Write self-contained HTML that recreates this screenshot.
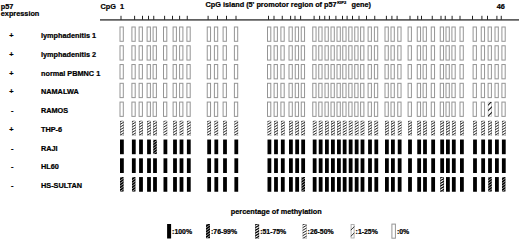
<!DOCTYPE html>
<html><head><meta charset="utf-8"><style>
html,body{margin:0;padding:0;background:#fff;width:520px;height:240px;overflow:hidden}
svg{display:block}
.t{font-family:"Liberation Sans",sans-serif;font-weight:bold;font-size:7.3px;fill:#000;stroke:#000;stroke-width:0.22px}
</style></head><body>
<svg width="520" height="240" viewBox="0 0 520 240">
<defs>
<clipPath id="c1"><rect x="488.10" y="101.98" width="3.8" height="14.7"/></clipPath>
<clipPath id="c2"><rect x="120.00" y="120.75" width="3.8" height="14.7"/></clipPath>
<clipPath id="c3"><rect x="131.90" y="120.75" width="3.8" height="14.7"/></clipPath>
<clipPath id="c4"><rect x="139.10" y="120.75" width="3.8" height="14.7"/></clipPath>
<clipPath id="c5"><rect x="147.10" y="120.75" width="3.8" height="14.7"/></clipPath>
<clipPath id="c6"><rect x="153.10" y="120.75" width="3.8" height="14.7"/></clipPath>
<clipPath id="c7"><rect x="163.50" y="120.75" width="3.8" height="14.7"/></clipPath>
<clipPath id="c8"><rect x="173.10" y="120.75" width="3.8" height="14.7"/></clipPath>
<clipPath id="c9"><rect x="179.60" y="120.75" width="3.8" height="14.7"/></clipPath>
<clipPath id="c10"><rect x="186.90" y="120.75" width="3.8" height="14.7"/></clipPath>
<clipPath id="c11"><rect x="207.25" y="120.75" width="3.8" height="14.7"/></clipPath>
<clipPath id="c12"><rect x="214.40" y="120.75" width="3.8" height="14.7"/></clipPath>
<clipPath id="c13"><rect x="223.10" y="120.75" width="3.8" height="14.7"/></clipPath>
<clipPath id="c14"><rect x="234.40" y="120.75" width="3.8" height="14.7"/></clipPath>
<clipPath id="c15"><rect x="267.50" y="120.75" width="3.8" height="14.7"/></clipPath>
<clipPath id="c16"><rect x="274.10" y="120.75" width="3.8" height="14.7"/></clipPath>
<clipPath id="c17"><rect x="280.90" y="120.75" width="3.8" height="14.7"/></clipPath>
<clipPath id="c18"><rect x="289.00" y="120.75" width="3.8" height="14.7"/></clipPath>
<clipPath id="c19"><rect x="295.25" y="120.75" width="3.8" height="14.7"/></clipPath>
<clipPath id="c20"><rect x="301.25" y="120.75" width="3.8" height="14.7"/></clipPath>
<clipPath id="c21"><rect x="312.75" y="120.75" width="3.8" height="14.7"/></clipPath>
<clipPath id="c22"><rect x="318.75" y="120.75" width="3.8" height="14.7"/></clipPath>
<clipPath id="c23"><rect x="325.00" y="120.75" width="3.8" height="14.7"/></clipPath>
<clipPath id="c24"><rect x="331.00" y="120.75" width="3.8" height="14.7"/></clipPath>
<clipPath id="c25"><rect x="337.00" y="120.75" width="3.8" height="14.7"/></clipPath>
<clipPath id="c26"><rect x="342.75" y="120.75" width="3.8" height="14.7"/></clipPath>
<clipPath id="c27"><rect x="348.75" y="120.75" width="3.8" height="14.7"/></clipPath>
<clipPath id="c28"><rect x="354.75" y="120.75" width="3.8" height="14.7"/></clipPath>
<clipPath id="c29"><rect x="360.60" y="120.75" width="3.8" height="14.7"/></clipPath>
<clipPath id="c30"><rect x="368.10" y="120.75" width="3.8" height="14.7"/></clipPath>
<clipPath id="c31"><rect x="374.40" y="120.75" width="3.8" height="14.7"/></clipPath>
<clipPath id="c32"><rect x="385.00" y="120.75" width="3.8" height="14.7"/></clipPath>
<clipPath id="c33"><rect x="391.00" y="120.75" width="3.8" height="14.7"/></clipPath>
<clipPath id="c34"><rect x="397.75" y="120.75" width="3.8" height="14.7"/></clipPath>
<clipPath id="c35"><rect x="408.10" y="120.75" width="3.8" height="14.7"/></clipPath>
<clipPath id="c36"><rect x="417.25" y="120.75" width="3.8" height="14.7"/></clipPath>
<clipPath id="c37"><rect x="423.10" y="120.75" width="3.8" height="14.7"/></clipPath>
<clipPath id="c38"><rect x="431.25" y="120.75" width="3.8" height="14.7"/></clipPath>
<clipPath id="c39"><rect x="440.25" y="120.75" width="3.8" height="14.7"/></clipPath>
<clipPath id="c40"><rect x="446.00" y="120.75" width="3.8" height="14.7"/></clipPath>
<clipPath id="c41"><rect x="451.90" y="120.75" width="3.8" height="14.7"/></clipPath>
<clipPath id="c42"><rect x="460.00" y="120.75" width="3.8" height="14.7"/></clipPath>
<clipPath id="c43"><rect x="473.10" y="120.75" width="3.8" height="14.7"/></clipPath>
<clipPath id="c44"><rect x="481.25" y="120.75" width="3.8" height="14.7"/></clipPath>
<clipPath id="c45"><rect x="488.10" y="120.75" width="3.8" height="14.7"/></clipPath>
<clipPath id="c46"><rect x="495.00" y="120.75" width="3.8" height="14.7"/></clipPath>
<clipPath id="c47"><rect x="501.90" y="120.75" width="3.8" height="14.7"/></clipPath>
<clipPath id="c48"><rect x="153.10" y="139.52" width="3.8" height="14.7"/></clipPath>
<clipPath id="c49"><rect x="120.00" y="177.06" width="3.8" height="14.7"/></clipPath>
<clipPath id="c50"><rect x="131.90" y="177.06" width="3.8" height="14.7"/></clipPath>
<clipPath id="c51"><rect x="301.25" y="177.06" width="3.8" height="14.7"/></clipPath>
<clipPath id="c52"><rect x="440.25" y="177.06" width="3.8" height="14.7"/></clipPath>
<clipPath id="c53"><rect x="488.10" y="177.06" width="3.8" height="14.7"/></clipPath>
<clipPath id="c54"><rect x="501.90" y="177.06" width="3.8" height="14.7"/></clipPath>
<clipPath id="c55"><rect x="206.00" y="224.00" width="4" height="14.5"/></clipPath>
<clipPath id="c56"><rect x="255.20" y="224.00" width="4" height="14.5"/></clipPath>
<clipPath id="c57"><rect x="302.60" y="224.00" width="4" height="14.5"/></clipPath>
<clipPath id="c58"><rect x="350.60" y="224.00" width="4" height="14.5"/></clipPath>
</defs>
<rect x="100" y="19.2" width="419" height="1.4" fill="#3a3a3a"/>
<rect x="120.50" y="15.8" width="1" height="4" fill="#222"/>
<rect x="134.10" y="15.8" width="1" height="4" fill="#222"/>
<rect x="142.00" y="15.8" width="1" height="4" fill="#222"/>
<rect x="148.00" y="15.8" width="1" height="4" fill="#222"/>
<rect x="153.25" y="15.8" width="1" height="4" fill="#222"/>
<rect x="164.10" y="15.8" width="1" height="4" fill="#222"/>
<rect x="172.00" y="15.8" width="1" height="4" fill="#222"/>
<rect x="179.10" y="15.8" width="1" height="4" fill="#222"/>
<rect x="186.75" y="15.8" width="1" height="4" fill="#222"/>
<rect x="207.60" y="15.8" width="1" height="4" fill="#222"/>
<rect x="217.00" y="15.8" width="1" height="4" fill="#222"/>
<rect x="226.00" y="15.8" width="1" height="4" fill="#222"/>
<rect x="235.50" y="15.8" width="1" height="4" fill="#222"/>
<rect x="268.00" y="15.8" width="1" height="4" fill="#222"/>
<rect x="273.50" y="15.8" width="1" height="4" fill="#222"/>
<rect x="281.75" y="15.8" width="1" height="4" fill="#222"/>
<rect x="290.10" y="15.8" width="1" height="4" fill="#222"/>
<rect x="294.50" y="15.8" width="1" height="4" fill="#222"/>
<rect x="300.10" y="15.8" width="1" height="4" fill="#222"/>
<rect x="313.60" y="15.8" width="1" height="4" fill="#222"/>
<rect x="319.10" y="15.8" width="1" height="4" fill="#222"/>
<rect x="324.25" y="15.8" width="1" height="4" fill="#222"/>
<rect x="328.90" y="15.8" width="1" height="4" fill="#222"/>
<rect x="335.40" y="15.8" width="1" height="4" fill="#222"/>
<rect x="342.00" y="15.8" width="1" height="4" fill="#222"/>
<rect x="346.60" y="15.8" width="1" height="4" fill="#222"/>
<rect x="352.00" y="15.8" width="1" height="4" fill="#222"/>
<rect x="358.50" y="15.8" width="1" height="4" fill="#222"/>
<rect x="366.00" y="15.8" width="1" height="4" fill="#222"/>
<rect x="374.25" y="15.8" width="1" height="4" fill="#222"/>
<rect x="385.90" y="15.8" width="1" height="4" fill="#222"/>
<rect x="391.40" y="15.8" width="1" height="4" fill="#222"/>
<rect x="396.60" y="15.8" width="1" height="4" fill="#222"/>
<rect x="409.50" y="15.8" width="1" height="4" fill="#222"/>
<rect x="417.25" y="15.8" width="1" height="4" fill="#222"/>
<rect x="421.00" y="15.8" width="1" height="4" fill="#222"/>
<rect x="431.75" y="15.8" width="1" height="4" fill="#222"/>
<rect x="440.50" y="15.8" width="1" height="4" fill="#222"/>
<rect x="444.75" y="15.8" width="1" height="4" fill="#222"/>
<rect x="451.60" y="15.8" width="1" height="4" fill="#222"/>
<rect x="459.50" y="15.8" width="1" height="4" fill="#222"/>
<rect x="472.00" y="15.8" width="1" height="4" fill="#222"/>
<rect x="481.40" y="15.8" width="1" height="4" fill="#222"/>
<rect x="487.00" y="15.8" width="1" height="4" fill="#222"/>
<rect x="496.40" y="15.8" width="1" height="4" fill="#222"/>
<rect x="500.75" y="15.8" width="1" height="4" fill="#222"/>
<rect x="120.00" y="27.00" width="3.30" height="14.30" fill="#fff" stroke="#959595" stroke-width="1"/>
<rect x="131.90" y="27.00" width="3.30" height="14.30" fill="#fff" stroke="#959595" stroke-width="1"/>
<rect x="139.10" y="27.00" width="3.30" height="14.30" fill="#fff" stroke="#959595" stroke-width="1"/>
<rect x="147.10" y="27.00" width="3.30" height="14.30" fill="#fff" stroke="#959595" stroke-width="1"/>
<rect x="153.10" y="27.00" width="3.30" height="14.30" fill="#fff" stroke="#959595" stroke-width="1"/>
<rect x="163.50" y="27.00" width="3.30" height="14.30" fill="#fff" stroke="#959595" stroke-width="1"/>
<rect x="173.10" y="27.00" width="3.30" height="14.30" fill="#fff" stroke="#959595" stroke-width="1"/>
<rect x="179.60" y="27.00" width="3.30" height="14.30" fill="#fff" stroke="#959595" stroke-width="1"/>
<rect x="186.90" y="27.00" width="3.30" height="14.30" fill="#fff" stroke="#959595" stroke-width="1"/>
<rect x="207.25" y="27.00" width="3.30" height="14.30" fill="#fff" stroke="#959595" stroke-width="1"/>
<rect x="214.40" y="27.00" width="3.30" height="14.30" fill="#fff" stroke="#959595" stroke-width="1"/>
<rect x="223.10" y="27.00" width="3.30" height="14.30" fill="#fff" stroke="#959595" stroke-width="1"/>
<rect x="234.40" y="27.00" width="3.30" height="14.30" fill="#fff" stroke="#959595" stroke-width="1"/>
<rect x="267.50" y="27.00" width="3.30" height="14.30" fill="#fff" stroke="#959595" stroke-width="1"/>
<rect x="274.10" y="27.00" width="3.30" height="14.30" fill="#fff" stroke="#959595" stroke-width="1"/>
<rect x="280.90" y="27.00" width="3.30" height="14.30" fill="#fff" stroke="#959595" stroke-width="1"/>
<rect x="289.00" y="27.00" width="3.30" height="14.30" fill="#fff" stroke="#959595" stroke-width="1"/>
<rect x="295.25" y="27.00" width="3.30" height="14.30" fill="#fff" stroke="#959595" stroke-width="1"/>
<rect x="301.25" y="27.00" width="3.30" height="14.30" fill="#fff" stroke="#959595" stroke-width="1"/>
<rect x="312.75" y="27.00" width="3.30" height="14.30" fill="#fff" stroke="#959595" stroke-width="1"/>
<rect x="318.75" y="27.00" width="3.30" height="14.30" fill="#fff" stroke="#959595" stroke-width="1"/>
<rect x="325.00" y="27.00" width="3.30" height="14.30" fill="#fff" stroke="#959595" stroke-width="1"/>
<rect x="331.00" y="27.00" width="3.30" height="14.30" fill="#fff" stroke="#959595" stroke-width="1"/>
<rect x="337.00" y="27.00" width="3.30" height="14.30" fill="#fff" stroke="#959595" stroke-width="1"/>
<rect x="342.75" y="27.00" width="3.30" height="14.30" fill="#fff" stroke="#959595" stroke-width="1"/>
<rect x="348.75" y="27.00" width="3.30" height="14.30" fill="#fff" stroke="#959595" stroke-width="1"/>
<rect x="354.75" y="27.00" width="3.30" height="14.30" fill="#fff" stroke="#959595" stroke-width="1"/>
<rect x="360.60" y="27.00" width="3.30" height="14.30" fill="#fff" stroke="#959595" stroke-width="1"/>
<rect x="368.10" y="27.00" width="3.30" height="14.30" fill="#fff" stroke="#959595" stroke-width="1"/>
<rect x="374.40" y="27.00" width="3.30" height="14.30" fill="#fff" stroke="#959595" stroke-width="1"/>
<rect x="385.00" y="27.00" width="3.30" height="14.30" fill="#fff" stroke="#959595" stroke-width="1"/>
<rect x="391.00" y="27.00" width="3.30" height="14.30" fill="#fff" stroke="#959595" stroke-width="1"/>
<rect x="397.75" y="27.00" width="3.30" height="14.30" fill="#fff" stroke="#959595" stroke-width="1"/>
<rect x="408.10" y="27.00" width="3.30" height="14.30" fill="#fff" stroke="#959595" stroke-width="1"/>
<rect x="417.25" y="27.00" width="3.30" height="14.30" fill="#fff" stroke="#959595" stroke-width="1"/>
<rect x="423.10" y="27.00" width="3.30" height="14.30" fill="#fff" stroke="#959595" stroke-width="1"/>
<rect x="431.25" y="27.00" width="3.30" height="14.30" fill="#fff" stroke="#959595" stroke-width="1"/>
<rect x="440.25" y="27.00" width="3.30" height="14.30" fill="#fff" stroke="#959595" stroke-width="1"/>
<rect x="446.00" y="27.00" width="3.30" height="14.30" fill="#fff" stroke="#959595" stroke-width="1"/>
<rect x="451.90" y="27.00" width="3.30" height="14.30" fill="#fff" stroke="#959595" stroke-width="1"/>
<rect x="460.00" y="27.00" width="3.30" height="14.30" fill="#fff" stroke="#959595" stroke-width="1"/>
<rect x="473.10" y="27.00" width="3.30" height="14.30" fill="#fff" stroke="#959595" stroke-width="1"/>
<rect x="481.25" y="27.00" width="3.30" height="14.30" fill="#fff" stroke="#959595" stroke-width="1"/>
<rect x="488.10" y="27.00" width="3.30" height="14.30" fill="#fff" stroke="#959595" stroke-width="1"/>
<rect x="495.00" y="27.00" width="3.30" height="14.30" fill="#fff" stroke="#959595" stroke-width="1"/>
<rect x="501.90" y="27.00" width="3.30" height="14.30" fill="#fff" stroke="#959595" stroke-width="1"/>
<text x="9.2" y="38.10" class="t">+</text>
<text x="41" y="38.10" class="t">lymphadenitis 1</text>
<rect x="120.00" y="45.77" width="3.30" height="14.30" fill="#fff" stroke="#959595" stroke-width="1"/>
<rect x="131.90" y="45.77" width="3.30" height="14.30" fill="#fff" stroke="#959595" stroke-width="1"/>
<rect x="139.10" y="45.77" width="3.30" height="14.30" fill="#fff" stroke="#959595" stroke-width="1"/>
<rect x="147.10" y="45.77" width="3.30" height="14.30" fill="#fff" stroke="#959595" stroke-width="1"/>
<rect x="153.10" y="45.77" width="3.30" height="14.30" fill="#fff" stroke="#959595" stroke-width="1"/>
<rect x="163.50" y="45.77" width="3.30" height="14.30" fill="#fff" stroke="#959595" stroke-width="1"/>
<rect x="173.10" y="45.77" width="3.30" height="14.30" fill="#fff" stroke="#959595" stroke-width="1"/>
<rect x="179.60" y="45.77" width="3.30" height="14.30" fill="#fff" stroke="#959595" stroke-width="1"/>
<rect x="186.90" y="45.77" width="3.30" height="14.30" fill="#fff" stroke="#959595" stroke-width="1"/>
<rect x="207.25" y="45.77" width="3.30" height="14.30" fill="#fff" stroke="#959595" stroke-width="1"/>
<rect x="214.40" y="45.77" width="3.30" height="14.30" fill="#fff" stroke="#959595" stroke-width="1"/>
<rect x="223.10" y="45.77" width="3.30" height="14.30" fill="#fff" stroke="#959595" stroke-width="1"/>
<rect x="234.40" y="45.77" width="3.30" height="14.30" fill="#fff" stroke="#959595" stroke-width="1"/>
<rect x="267.50" y="45.77" width="3.30" height="14.30" fill="#fff" stroke="#959595" stroke-width="1"/>
<rect x="274.10" y="45.77" width="3.30" height="14.30" fill="#fff" stroke="#959595" stroke-width="1"/>
<rect x="280.90" y="45.77" width="3.30" height="14.30" fill="#fff" stroke="#959595" stroke-width="1"/>
<rect x="289.00" y="45.77" width="3.30" height="14.30" fill="#fff" stroke="#959595" stroke-width="1"/>
<rect x="295.25" y="45.77" width="3.30" height="14.30" fill="#fff" stroke="#959595" stroke-width="1"/>
<rect x="301.25" y="45.77" width="3.30" height="14.30" fill="#fff" stroke="#959595" stroke-width="1"/>
<rect x="312.75" y="45.77" width="3.30" height="14.30" fill="#fff" stroke="#959595" stroke-width="1"/>
<rect x="318.75" y="45.77" width="3.30" height="14.30" fill="#fff" stroke="#959595" stroke-width="1"/>
<rect x="325.00" y="45.77" width="3.30" height="14.30" fill="#fff" stroke="#959595" stroke-width="1"/>
<rect x="331.00" y="45.77" width="3.30" height="14.30" fill="#fff" stroke="#959595" stroke-width="1"/>
<rect x="337.00" y="45.77" width="3.30" height="14.30" fill="#fff" stroke="#959595" stroke-width="1"/>
<rect x="342.75" y="45.77" width="3.30" height="14.30" fill="#fff" stroke="#959595" stroke-width="1"/>
<rect x="348.75" y="45.77" width="3.30" height="14.30" fill="#fff" stroke="#959595" stroke-width="1"/>
<rect x="354.75" y="45.77" width="3.30" height="14.30" fill="#fff" stroke="#959595" stroke-width="1"/>
<rect x="360.60" y="45.77" width="3.30" height="14.30" fill="#fff" stroke="#959595" stroke-width="1"/>
<rect x="368.10" y="45.77" width="3.30" height="14.30" fill="#fff" stroke="#959595" stroke-width="1"/>
<rect x="374.40" y="45.77" width="3.30" height="14.30" fill="#fff" stroke="#959595" stroke-width="1"/>
<rect x="385.00" y="45.77" width="3.30" height="14.30" fill="#fff" stroke="#959595" stroke-width="1"/>
<rect x="391.00" y="45.77" width="3.30" height="14.30" fill="#fff" stroke="#959595" stroke-width="1"/>
<rect x="397.75" y="45.77" width="3.30" height="14.30" fill="#fff" stroke="#959595" stroke-width="1"/>
<rect x="408.10" y="45.77" width="3.30" height="14.30" fill="#fff" stroke="#959595" stroke-width="1"/>
<rect x="417.25" y="45.77" width="3.30" height="14.30" fill="#fff" stroke="#959595" stroke-width="1"/>
<rect x="423.10" y="45.77" width="3.30" height="14.30" fill="#fff" stroke="#959595" stroke-width="1"/>
<rect x="431.25" y="45.77" width="3.30" height="14.30" fill="#fff" stroke="#959595" stroke-width="1"/>
<rect x="440.25" y="45.77" width="3.30" height="14.30" fill="#fff" stroke="#959595" stroke-width="1"/>
<rect x="446.00" y="45.77" width="3.30" height="14.30" fill="#fff" stroke="#959595" stroke-width="1"/>
<rect x="451.90" y="45.77" width="3.30" height="14.30" fill="#fff" stroke="#959595" stroke-width="1"/>
<rect x="460.00" y="45.77" width="3.30" height="14.30" fill="#fff" stroke="#959595" stroke-width="1"/>
<rect x="473.10" y="45.77" width="3.30" height="14.30" fill="#fff" stroke="#959595" stroke-width="1"/>
<rect x="481.25" y="45.77" width="3.30" height="14.30" fill="#fff" stroke="#959595" stroke-width="1"/>
<rect x="488.10" y="45.77" width="3.30" height="14.30" fill="#fff" stroke="#959595" stroke-width="1"/>
<rect x="495.00" y="45.77" width="3.30" height="14.30" fill="#fff" stroke="#959595" stroke-width="1"/>
<rect x="501.90" y="45.77" width="3.30" height="14.30" fill="#fff" stroke="#959595" stroke-width="1"/>
<text x="9.2" y="56.87" class="t">+</text>
<text x="41" y="56.87" class="t">lymphadenitis 2</text>
<rect x="120.00" y="64.54" width="3.30" height="14.30" fill="#fff" stroke="#959595" stroke-width="1"/>
<rect x="131.90" y="64.54" width="3.30" height="14.30" fill="#fff" stroke="#959595" stroke-width="1"/>
<rect x="139.10" y="64.54" width="3.30" height="14.30" fill="#fff" stroke="#959595" stroke-width="1"/>
<rect x="147.10" y="64.54" width="3.30" height="14.30" fill="#fff" stroke="#959595" stroke-width="1"/>
<rect x="153.10" y="64.54" width="3.30" height="14.30" fill="#fff" stroke="#959595" stroke-width="1"/>
<rect x="163.50" y="64.54" width="3.30" height="14.30" fill="#fff" stroke="#959595" stroke-width="1"/>
<rect x="173.10" y="64.54" width="3.30" height="14.30" fill="#fff" stroke="#959595" stroke-width="1"/>
<rect x="179.60" y="64.54" width="3.30" height="14.30" fill="#fff" stroke="#959595" stroke-width="1"/>
<rect x="186.90" y="64.54" width="3.30" height="14.30" fill="#fff" stroke="#959595" stroke-width="1"/>
<rect x="207.25" y="64.54" width="3.30" height="14.30" fill="#fff" stroke="#959595" stroke-width="1"/>
<rect x="214.40" y="64.54" width="3.30" height="14.30" fill="#fff" stroke="#959595" stroke-width="1"/>
<rect x="223.10" y="64.54" width="3.30" height="14.30" fill="#fff" stroke="#959595" stroke-width="1"/>
<rect x="234.40" y="64.54" width="3.30" height="14.30" fill="#fff" stroke="#959595" stroke-width="1"/>
<rect x="267.50" y="64.54" width="3.30" height="14.30" fill="#fff" stroke="#959595" stroke-width="1"/>
<rect x="274.10" y="64.54" width="3.30" height="14.30" fill="#fff" stroke="#959595" stroke-width="1"/>
<rect x="280.90" y="64.54" width="3.30" height="14.30" fill="#fff" stroke="#959595" stroke-width="1"/>
<rect x="289.00" y="64.54" width="3.30" height="14.30" fill="#fff" stroke="#959595" stroke-width="1"/>
<rect x="295.25" y="64.54" width="3.30" height="14.30" fill="#fff" stroke="#959595" stroke-width="1"/>
<rect x="301.25" y="64.54" width="3.30" height="14.30" fill="#fff" stroke="#959595" stroke-width="1"/>
<rect x="312.75" y="64.54" width="3.30" height="14.30" fill="#fff" stroke="#959595" stroke-width="1"/>
<rect x="318.75" y="64.54" width="3.30" height="14.30" fill="#fff" stroke="#959595" stroke-width="1"/>
<rect x="325.00" y="64.54" width="3.30" height="14.30" fill="#fff" stroke="#959595" stroke-width="1"/>
<rect x="331.00" y="64.54" width="3.30" height="14.30" fill="#fff" stroke="#959595" stroke-width="1"/>
<rect x="337.00" y="64.54" width="3.30" height="14.30" fill="#fff" stroke="#959595" stroke-width="1"/>
<rect x="342.75" y="64.54" width="3.30" height="14.30" fill="#fff" stroke="#959595" stroke-width="1"/>
<rect x="348.75" y="64.54" width="3.30" height="14.30" fill="#fff" stroke="#959595" stroke-width="1"/>
<rect x="354.75" y="64.54" width="3.30" height="14.30" fill="#fff" stroke="#959595" stroke-width="1"/>
<rect x="360.60" y="64.54" width="3.30" height="14.30" fill="#fff" stroke="#959595" stroke-width="1"/>
<rect x="368.10" y="64.54" width="3.30" height="14.30" fill="#fff" stroke="#959595" stroke-width="1"/>
<rect x="374.40" y="64.54" width="3.30" height="14.30" fill="#fff" stroke="#959595" stroke-width="1"/>
<rect x="385.00" y="64.54" width="3.30" height="14.30" fill="#fff" stroke="#959595" stroke-width="1"/>
<rect x="391.00" y="64.54" width="3.30" height="14.30" fill="#fff" stroke="#959595" stroke-width="1"/>
<rect x="397.75" y="64.54" width="3.30" height="14.30" fill="#fff" stroke="#959595" stroke-width="1"/>
<rect x="408.10" y="64.54" width="3.30" height="14.30" fill="#fff" stroke="#959595" stroke-width="1"/>
<rect x="417.25" y="64.54" width="3.30" height="14.30" fill="#fff" stroke="#959595" stroke-width="1"/>
<rect x="423.10" y="64.54" width="3.30" height="14.30" fill="#fff" stroke="#959595" stroke-width="1"/>
<rect x="431.25" y="64.54" width="3.30" height="14.30" fill="#fff" stroke="#959595" stroke-width="1"/>
<rect x="440.25" y="64.54" width="3.30" height="14.30" fill="#fff" stroke="#959595" stroke-width="1"/>
<rect x="446.00" y="64.54" width="3.30" height="14.30" fill="#fff" stroke="#959595" stroke-width="1"/>
<rect x="451.90" y="64.54" width="3.30" height="14.30" fill="#fff" stroke="#959595" stroke-width="1"/>
<rect x="460.00" y="64.54" width="3.30" height="14.30" fill="#fff" stroke="#959595" stroke-width="1"/>
<rect x="473.10" y="64.54" width="3.30" height="14.30" fill="#fff" stroke="#959595" stroke-width="1"/>
<rect x="481.25" y="64.54" width="3.30" height="14.30" fill="#fff" stroke="#959595" stroke-width="1"/>
<rect x="488.10" y="64.54" width="3.30" height="14.30" fill="#fff" stroke="#959595" stroke-width="1"/>
<rect x="495.00" y="64.54" width="3.30" height="14.30" fill="#fff" stroke="#959595" stroke-width="1"/>
<rect x="501.90" y="64.54" width="3.30" height="14.30" fill="#fff" stroke="#959595" stroke-width="1"/>
<text x="9.2" y="75.64" class="t">+</text>
<text x="41" y="75.64" class="t">normal PBMNC 1</text>
<rect x="120.00" y="83.31" width="3.30" height="14.30" fill="#fff" stroke="#959595" stroke-width="1"/>
<rect x="131.90" y="83.31" width="3.30" height="14.30" fill="#fff" stroke="#959595" stroke-width="1"/>
<rect x="139.10" y="83.31" width="3.30" height="14.30" fill="#fff" stroke="#959595" stroke-width="1"/>
<rect x="147.10" y="83.31" width="3.30" height="14.30" fill="#fff" stroke="#959595" stroke-width="1"/>
<rect x="153.10" y="83.31" width="3.30" height="14.30" fill="#fff" stroke="#959595" stroke-width="1"/>
<rect x="163.50" y="83.31" width="3.30" height="14.30" fill="#fff" stroke="#959595" stroke-width="1"/>
<rect x="173.10" y="83.31" width="3.30" height="14.30" fill="#fff" stroke="#959595" stroke-width="1"/>
<rect x="179.60" y="83.31" width="3.30" height="14.30" fill="#fff" stroke="#959595" stroke-width="1"/>
<rect x="186.90" y="83.31" width="3.30" height="14.30" fill="#fff" stroke="#959595" stroke-width="1"/>
<rect x="207.25" y="83.31" width="3.30" height="14.30" fill="#fff" stroke="#959595" stroke-width="1"/>
<rect x="214.40" y="83.31" width="3.30" height="14.30" fill="#fff" stroke="#959595" stroke-width="1"/>
<rect x="223.10" y="83.31" width="3.30" height="14.30" fill="#fff" stroke="#959595" stroke-width="1"/>
<rect x="234.40" y="83.31" width="3.30" height="14.30" fill="#fff" stroke="#959595" stroke-width="1"/>
<rect x="267.50" y="83.31" width="3.30" height="14.30" fill="#fff" stroke="#959595" stroke-width="1"/>
<rect x="274.10" y="83.31" width="3.30" height="14.30" fill="#fff" stroke="#959595" stroke-width="1"/>
<rect x="280.90" y="83.31" width="3.30" height="14.30" fill="#fff" stroke="#959595" stroke-width="1"/>
<rect x="289.00" y="83.31" width="3.30" height="14.30" fill="#fff" stroke="#959595" stroke-width="1"/>
<rect x="295.25" y="83.31" width="3.30" height="14.30" fill="#fff" stroke="#959595" stroke-width="1"/>
<rect x="301.25" y="83.31" width="3.30" height="14.30" fill="#fff" stroke="#959595" stroke-width="1"/>
<rect x="312.75" y="83.31" width="3.30" height="14.30" fill="#fff" stroke="#959595" stroke-width="1"/>
<rect x="318.75" y="83.31" width="3.30" height="14.30" fill="#fff" stroke="#959595" stroke-width="1"/>
<rect x="325.00" y="83.31" width="3.30" height="14.30" fill="#fff" stroke="#959595" stroke-width="1"/>
<rect x="331.00" y="83.31" width="3.30" height="14.30" fill="#fff" stroke="#959595" stroke-width="1"/>
<rect x="337.00" y="83.31" width="3.30" height="14.30" fill="#fff" stroke="#959595" stroke-width="1"/>
<rect x="342.75" y="83.31" width="3.30" height="14.30" fill="#fff" stroke="#959595" stroke-width="1"/>
<rect x="348.75" y="83.31" width="3.30" height="14.30" fill="#fff" stroke="#959595" stroke-width="1"/>
<rect x="354.75" y="83.31" width="3.30" height="14.30" fill="#fff" stroke="#959595" stroke-width="1"/>
<rect x="360.60" y="83.31" width="3.30" height="14.30" fill="#fff" stroke="#959595" stroke-width="1"/>
<rect x="368.10" y="83.31" width="3.30" height="14.30" fill="#fff" stroke="#959595" stroke-width="1"/>
<rect x="374.40" y="83.31" width="3.30" height="14.30" fill="#fff" stroke="#959595" stroke-width="1"/>
<rect x="385.00" y="83.31" width="3.30" height="14.30" fill="#fff" stroke="#959595" stroke-width="1"/>
<rect x="391.00" y="83.31" width="3.30" height="14.30" fill="#fff" stroke="#959595" stroke-width="1"/>
<rect x="397.75" y="83.31" width="3.30" height="14.30" fill="#fff" stroke="#959595" stroke-width="1"/>
<rect x="408.10" y="83.31" width="3.30" height="14.30" fill="#fff" stroke="#959595" stroke-width="1"/>
<rect x="417.25" y="83.31" width="3.30" height="14.30" fill="#fff" stroke="#959595" stroke-width="1"/>
<rect x="423.10" y="83.31" width="3.30" height="14.30" fill="#fff" stroke="#959595" stroke-width="1"/>
<rect x="431.25" y="83.31" width="3.30" height="14.30" fill="#fff" stroke="#959595" stroke-width="1"/>
<rect x="440.25" y="83.31" width="3.30" height="14.30" fill="#fff" stroke="#959595" stroke-width="1"/>
<rect x="446.00" y="83.31" width="3.30" height="14.30" fill="#fff" stroke="#959595" stroke-width="1"/>
<rect x="451.90" y="83.31" width="3.30" height="14.30" fill="#fff" stroke="#959595" stroke-width="1"/>
<rect x="460.00" y="83.31" width="3.30" height="14.30" fill="#fff" stroke="#959595" stroke-width="1"/>
<rect x="473.10" y="83.31" width="3.30" height="14.30" fill="#fff" stroke="#959595" stroke-width="1"/>
<rect x="481.25" y="83.31" width="3.30" height="14.30" fill="#fff" stroke="#959595" stroke-width="1"/>
<rect x="488.10" y="83.31" width="3.30" height="14.30" fill="#fff" stroke="#959595" stroke-width="1"/>
<rect x="495.00" y="83.31" width="3.30" height="14.30" fill="#fff" stroke="#959595" stroke-width="1"/>
<rect x="501.90" y="83.31" width="3.30" height="14.30" fill="#fff" stroke="#959595" stroke-width="1"/>
<text x="9.2" y="94.41" class="t">+</text>
<text x="41" y="94.41" class="t">NAMALWA</text>
<rect x="120.00" y="102.08" width="3.30" height="14.30" fill="#fff" stroke="#959595" stroke-width="1"/>
<rect x="131.90" y="102.08" width="3.30" height="14.30" fill="#fff" stroke="#959595" stroke-width="1"/>
<rect x="139.10" y="102.08" width="3.30" height="14.30" fill="#fff" stroke="#959595" stroke-width="1"/>
<rect x="147.10" y="102.08" width="3.30" height="14.30" fill="#fff" stroke="#959595" stroke-width="1"/>
<rect x="153.10" y="102.08" width="3.30" height="14.30" fill="#fff" stroke="#959595" stroke-width="1"/>
<rect x="163.50" y="102.08" width="3.30" height="14.30" fill="#fff" stroke="#959595" stroke-width="1"/>
<rect x="173.10" y="102.08" width="3.30" height="14.30" fill="#fff" stroke="#959595" stroke-width="1"/>
<rect x="179.60" y="102.08" width="3.30" height="14.30" fill="#fff" stroke="#959595" stroke-width="1"/>
<rect x="186.90" y="102.08" width="3.30" height="14.30" fill="#fff" stroke="#959595" stroke-width="1"/>
<rect x="207.25" y="102.08" width="3.30" height="14.30" fill="#fff" stroke="#959595" stroke-width="1"/>
<rect x="214.40" y="102.08" width="3.30" height="14.30" fill="#fff" stroke="#959595" stroke-width="1"/>
<rect x="223.10" y="102.08" width="3.30" height="14.30" fill="#fff" stroke="#959595" stroke-width="1"/>
<rect x="234.40" y="102.08" width="3.30" height="14.30" fill="#fff" stroke="#959595" stroke-width="1"/>
<rect x="267.50" y="102.08" width="3.30" height="14.30" fill="#fff" stroke="#959595" stroke-width="1"/>
<rect x="274.10" y="102.08" width="3.30" height="14.30" fill="#fff" stroke="#959595" stroke-width="1"/>
<rect x="280.90" y="102.08" width="3.30" height="14.30" fill="#fff" stroke="#959595" stroke-width="1"/>
<rect x="289.00" y="102.08" width="3.30" height="14.30" fill="#fff" stroke="#959595" stroke-width="1"/>
<rect x="295.25" y="102.08" width="3.30" height="14.30" fill="#fff" stroke="#959595" stroke-width="1"/>
<rect x="301.25" y="102.08" width="3.30" height="14.30" fill="#fff" stroke="#959595" stroke-width="1"/>
<rect x="312.75" y="102.08" width="3.30" height="14.30" fill="#fff" stroke="#959595" stroke-width="1"/>
<rect x="318.75" y="102.08" width="3.30" height="14.30" fill="#fff" stroke="#959595" stroke-width="1"/>
<rect x="325.00" y="102.08" width="3.30" height="14.30" fill="#fff" stroke="#959595" stroke-width="1"/>
<rect x="331.00" y="102.08" width="3.30" height="14.30" fill="#fff" stroke="#959595" stroke-width="1"/>
<rect x="337.00" y="102.08" width="3.30" height="14.30" fill="#fff" stroke="#959595" stroke-width="1"/>
<rect x="342.75" y="102.08" width="3.30" height="14.30" fill="#fff" stroke="#959595" stroke-width="1"/>
<rect x="348.75" y="102.08" width="3.30" height="14.30" fill="#fff" stroke="#959595" stroke-width="1"/>
<rect x="354.75" y="102.08" width="3.30" height="14.30" fill="#fff" stroke="#959595" stroke-width="1"/>
<rect x="360.60" y="102.08" width="3.30" height="14.30" fill="#fff" stroke="#959595" stroke-width="1"/>
<rect x="368.10" y="102.08" width="3.30" height="14.30" fill="#fff" stroke="#959595" stroke-width="1"/>
<rect x="374.40" y="102.08" width="3.30" height="14.30" fill="#fff" stroke="#959595" stroke-width="1"/>
<rect x="385.00" y="102.08" width="3.30" height="14.30" fill="#fff" stroke="#959595" stroke-width="1"/>
<rect x="391.00" y="102.08" width="3.30" height="14.30" fill="#fff" stroke="#959595" stroke-width="1"/>
<rect x="397.75" y="102.08" width="3.30" height="14.30" fill="#fff" stroke="#959595" stroke-width="1"/>
<rect x="408.10" y="102.08" width="3.30" height="14.30" fill="#fff" stroke="#959595" stroke-width="1"/>
<rect x="417.25" y="102.08" width="3.30" height="14.30" fill="#fff" stroke="#959595" stroke-width="1"/>
<rect x="423.10" y="102.08" width="3.30" height="14.30" fill="#fff" stroke="#959595" stroke-width="1"/>
<rect x="431.25" y="102.08" width="3.30" height="14.30" fill="#fff" stroke="#959595" stroke-width="1"/>
<rect x="440.25" y="102.08" width="3.30" height="14.30" fill="#fff" stroke="#959595" stroke-width="1"/>
<rect x="446.00" y="102.08" width="3.30" height="14.30" fill="#fff" stroke="#959595" stroke-width="1"/>
<rect x="451.90" y="102.08" width="3.30" height="14.30" fill="#fff" stroke="#959595" stroke-width="1"/>
<rect x="460.00" y="102.08" width="3.30" height="14.30" fill="#fff" stroke="#959595" stroke-width="1"/>
<rect x="473.10" y="102.08" width="3.30" height="14.30" fill="#fff" stroke="#959595" stroke-width="1"/>
<rect x="481.25" y="102.08" width="3.30" height="14.30" fill="#fff" stroke="#959595" stroke-width="1"/>
<rect x="488.10" y="102.08" width="3.30" height="14.30" fill="#fff" stroke="#c4c4c4" stroke-width="0.8"/><path clip-path="url(#c1)" d="M487.60 105.58L492.40 100.78M487.60 111.08L492.40 106.28M487.60 116.58L492.40 111.78M487.60 122.08L492.40 117.28" stroke="#111" stroke-width="1.1"/>
<rect x="495.00" y="102.08" width="3.30" height="14.30" fill="#fff" stroke="#959595" stroke-width="1"/>
<rect x="501.90" y="102.08" width="3.30" height="14.30" fill="#fff" stroke="#959595" stroke-width="1"/>
<text x="11.1" y="113.18" class="t">-</text>
<text x="41" y="113.18" class="t">RAMOS</text>
<g clip-path="url(#c2)"><rect x="120.00" y="120.75" width="3.8" height="14.7" fill="#fff"/><path d="M119.50 122.05L124.30 119.17M119.50 124.75L124.30 121.87M119.50 127.45L124.30 124.57M119.50 130.15L124.30 127.27M119.50 132.85L124.30 129.97M119.50 135.55L124.30 132.67M119.50 138.25L124.30 135.37" stroke="#1a1a1a" stroke-width="0.95"/><rect x="120.25" y="121.00" width="3.30" height="14.20" fill="none" stroke="#555" stroke-width="0.5"/></g>
<g clip-path="url(#c3)"><rect x="131.90" y="120.75" width="3.8" height="14.7" fill="#fff"/><path d="M131.40 122.05L136.20 119.17M131.40 124.75L136.20 121.87M131.40 127.45L136.20 124.57M131.40 130.15L136.20 127.27M131.40 132.85L136.20 129.97M131.40 135.55L136.20 132.67M131.40 138.25L136.20 135.37" stroke="#1a1a1a" stroke-width="0.95"/><rect x="132.15" y="121.00" width="3.30" height="14.20" fill="none" stroke="#555" stroke-width="0.5"/></g>
<g clip-path="url(#c4)"><rect x="139.10" y="120.75" width="3.8" height="14.7" fill="#fff"/><path d="M138.60 122.05L143.40 119.17M138.60 124.75L143.40 121.87M138.60 127.45L143.40 124.57M138.60 130.15L143.40 127.27M138.60 132.85L143.40 129.97M138.60 135.55L143.40 132.67M138.60 138.25L143.40 135.37" stroke="#1a1a1a" stroke-width="0.95"/><rect x="139.35" y="121.00" width="3.30" height="14.20" fill="none" stroke="#555" stroke-width="0.5"/></g>
<g clip-path="url(#c5)"><rect x="147.10" y="120.75" width="3.8" height="14.7" fill="#fff"/><path d="M146.60 122.05L151.40 119.17M146.60 124.75L151.40 121.87M146.60 127.45L151.40 124.57M146.60 130.15L151.40 127.27M146.60 132.85L151.40 129.97M146.60 135.55L151.40 132.67M146.60 138.25L151.40 135.37" stroke="#1a1a1a" stroke-width="0.95"/><rect x="147.35" y="121.00" width="3.30" height="14.20" fill="none" stroke="#555" stroke-width="0.5"/></g>
<g clip-path="url(#c6)"><rect x="153.10" y="120.75" width="3.8" height="14.7" fill="#fff"/><path d="M152.60 122.05L157.40 119.17M152.60 124.75L157.40 121.87M152.60 127.45L157.40 124.57M152.60 130.15L157.40 127.27M152.60 132.85L157.40 129.97M152.60 135.55L157.40 132.67M152.60 138.25L157.40 135.37" stroke="#1a1a1a" stroke-width="0.95"/><rect x="153.35" y="121.00" width="3.30" height="14.20" fill="none" stroke="#555" stroke-width="0.5"/></g>
<g clip-path="url(#c7)"><rect x="163.50" y="120.75" width="3.8" height="14.7" fill="#fff"/><path d="M163.00 122.05L167.80 119.17M163.00 124.75L167.80 121.87M163.00 127.45L167.80 124.57M163.00 130.15L167.80 127.27M163.00 132.85L167.80 129.97M163.00 135.55L167.80 132.67M163.00 138.25L167.80 135.37" stroke="#1a1a1a" stroke-width="0.95"/><rect x="163.75" y="121.00" width="3.30" height="14.20" fill="none" stroke="#555" stroke-width="0.5"/></g>
<g clip-path="url(#c8)"><rect x="173.10" y="120.75" width="3.8" height="14.7" fill="#fff"/><path d="M172.60 122.05L177.40 119.17M172.60 124.75L177.40 121.87M172.60 127.45L177.40 124.57M172.60 130.15L177.40 127.27M172.60 132.85L177.40 129.97M172.60 135.55L177.40 132.67M172.60 138.25L177.40 135.37" stroke="#1a1a1a" stroke-width="0.95"/><rect x="173.35" y="121.00" width="3.30" height="14.20" fill="none" stroke="#555" stroke-width="0.5"/></g>
<g clip-path="url(#c9)"><rect x="179.60" y="120.75" width="3.8" height="14.7" fill="#fff"/><path d="M179.10 122.05L183.90 119.17M179.10 124.75L183.90 121.87M179.10 127.45L183.90 124.57M179.10 130.15L183.90 127.27M179.10 132.85L183.90 129.97M179.10 135.55L183.90 132.67M179.10 138.25L183.90 135.37" stroke="#1a1a1a" stroke-width="0.95"/><rect x="179.85" y="121.00" width="3.30" height="14.20" fill="none" stroke="#555" stroke-width="0.5"/></g>
<g clip-path="url(#c10)"><rect x="186.90" y="120.75" width="3.8" height="14.7" fill="#fff"/><path d="M186.40 122.05L191.20 119.17M186.40 124.75L191.20 121.87M186.40 127.45L191.20 124.57M186.40 130.15L191.20 127.27M186.40 132.85L191.20 129.97M186.40 135.55L191.20 132.67M186.40 138.25L191.20 135.37" stroke="#1a1a1a" stroke-width="0.95"/><rect x="187.15" y="121.00" width="3.30" height="14.20" fill="none" stroke="#555" stroke-width="0.5"/></g>
<g clip-path="url(#c11)"><rect x="207.25" y="120.75" width="3.8" height="14.7" fill="#fff"/><path d="M206.75 122.05L211.55 119.17M206.75 124.75L211.55 121.87M206.75 127.45L211.55 124.57M206.75 130.15L211.55 127.27M206.75 132.85L211.55 129.97M206.75 135.55L211.55 132.67M206.75 138.25L211.55 135.37" stroke="#1a1a1a" stroke-width="0.95"/><rect x="207.50" y="121.00" width="3.30" height="14.20" fill="none" stroke="#555" stroke-width="0.5"/></g>
<g clip-path="url(#c12)"><rect x="214.40" y="120.75" width="3.8" height="14.7" fill="#fff"/><path d="M213.90 122.05L218.70 119.17M213.90 124.75L218.70 121.87M213.90 127.45L218.70 124.57M213.90 130.15L218.70 127.27M213.90 132.85L218.70 129.97M213.90 135.55L218.70 132.67M213.90 138.25L218.70 135.37" stroke="#1a1a1a" stroke-width="0.95"/><rect x="214.65" y="121.00" width="3.30" height="14.20" fill="none" stroke="#555" stroke-width="0.5"/></g>
<g clip-path="url(#c13)"><rect x="223.10" y="120.75" width="3.8" height="14.7" fill="#fff"/><path d="M222.60 122.05L227.40 119.17M222.60 124.75L227.40 121.87M222.60 127.45L227.40 124.57M222.60 130.15L227.40 127.27M222.60 132.85L227.40 129.97M222.60 135.55L227.40 132.67M222.60 138.25L227.40 135.37" stroke="#1a1a1a" stroke-width="0.95"/><rect x="223.35" y="121.00" width="3.30" height="14.20" fill="none" stroke="#555" stroke-width="0.5"/></g>
<g clip-path="url(#c14)"><rect x="234.40" y="120.75" width="3.8" height="14.7" fill="#fff"/><path d="M233.90 122.05L238.70 119.17M233.90 124.75L238.70 121.87M233.90 127.45L238.70 124.57M233.90 130.15L238.70 127.27M233.90 132.85L238.70 129.97M233.90 135.55L238.70 132.67M233.90 138.25L238.70 135.37" stroke="#1a1a1a" stroke-width="0.95"/><rect x="234.65" y="121.00" width="3.30" height="14.20" fill="none" stroke="#555" stroke-width="0.5"/></g>
<g clip-path="url(#c15)"><rect x="267.50" y="120.75" width="3.8" height="14.7" fill="#fff"/><path d="M267.00 122.05L271.80 119.17M267.00 124.75L271.80 121.87M267.00 127.45L271.80 124.57M267.00 130.15L271.80 127.27M267.00 132.85L271.80 129.97M267.00 135.55L271.80 132.67M267.00 138.25L271.80 135.37" stroke="#1a1a1a" stroke-width="0.95"/><rect x="267.75" y="121.00" width="3.30" height="14.20" fill="none" stroke="#555" stroke-width="0.5"/></g>
<g clip-path="url(#c16)"><rect x="274.10" y="120.75" width="3.8" height="14.7" fill="#fff"/><path d="M273.60 122.05L278.40 119.17M273.60 124.75L278.40 121.87M273.60 127.45L278.40 124.57M273.60 130.15L278.40 127.27M273.60 132.85L278.40 129.97M273.60 135.55L278.40 132.67M273.60 138.25L278.40 135.37" stroke="#1a1a1a" stroke-width="0.95"/><rect x="274.35" y="121.00" width="3.30" height="14.20" fill="none" stroke="#555" stroke-width="0.5"/></g>
<g clip-path="url(#c17)"><rect x="280.90" y="120.75" width="3.8" height="14.7" fill="#fff"/><path d="M280.40 122.05L285.20 119.17M280.40 124.75L285.20 121.87M280.40 127.45L285.20 124.57M280.40 130.15L285.20 127.27M280.40 132.85L285.20 129.97M280.40 135.55L285.20 132.67M280.40 138.25L285.20 135.37" stroke="#1a1a1a" stroke-width="0.95"/><rect x="281.15" y="121.00" width="3.30" height="14.20" fill="none" stroke="#555" stroke-width="0.5"/></g>
<g clip-path="url(#c18)"><rect x="289.00" y="120.75" width="3.8" height="14.7" fill="#fff"/><path d="M288.50 122.05L293.30 119.17M288.50 124.75L293.30 121.87M288.50 127.45L293.30 124.57M288.50 130.15L293.30 127.27M288.50 132.85L293.30 129.97M288.50 135.55L293.30 132.67M288.50 138.25L293.30 135.37" stroke="#1a1a1a" stroke-width="0.95"/><rect x="289.25" y="121.00" width="3.30" height="14.20" fill="none" stroke="#555" stroke-width="0.5"/></g>
<g clip-path="url(#c19)"><rect x="295.25" y="120.75" width="3.8" height="14.7" fill="#fff"/><path d="M294.75 122.05L299.55 119.17M294.75 124.75L299.55 121.87M294.75 127.45L299.55 124.57M294.75 130.15L299.55 127.27M294.75 132.85L299.55 129.97M294.75 135.55L299.55 132.67M294.75 138.25L299.55 135.37" stroke="#1a1a1a" stroke-width="0.95"/><rect x="295.50" y="121.00" width="3.30" height="14.20" fill="none" stroke="#555" stroke-width="0.5"/></g>
<g clip-path="url(#c20)"><rect x="301.25" y="120.75" width="3.8" height="14.7" fill="#fff"/><path d="M300.75 122.05L305.55 119.17M300.75 124.75L305.55 121.87M300.75 127.45L305.55 124.57M300.75 130.15L305.55 127.27M300.75 132.85L305.55 129.97M300.75 135.55L305.55 132.67M300.75 138.25L305.55 135.37" stroke="#1a1a1a" stroke-width="0.95"/><rect x="301.50" y="121.00" width="3.30" height="14.20" fill="none" stroke="#555" stroke-width="0.5"/></g>
<g clip-path="url(#c21)"><rect x="312.75" y="120.75" width="3.8" height="14.7" fill="#fff"/><path d="M312.25 122.05L317.05 119.17M312.25 124.75L317.05 121.87M312.25 127.45L317.05 124.57M312.25 130.15L317.05 127.27M312.25 132.85L317.05 129.97M312.25 135.55L317.05 132.67M312.25 138.25L317.05 135.37" stroke="#1a1a1a" stroke-width="0.95"/><rect x="313.00" y="121.00" width="3.30" height="14.20" fill="none" stroke="#555" stroke-width="0.5"/></g>
<g clip-path="url(#c22)"><rect x="318.75" y="120.75" width="3.8" height="14.7" fill="#fff"/><path d="M318.25 122.05L323.05 119.17M318.25 124.75L323.05 121.87M318.25 127.45L323.05 124.57M318.25 130.15L323.05 127.27M318.25 132.85L323.05 129.97M318.25 135.55L323.05 132.67M318.25 138.25L323.05 135.37" stroke="#1a1a1a" stroke-width="0.95"/><rect x="319.00" y="121.00" width="3.30" height="14.20" fill="none" stroke="#555" stroke-width="0.5"/></g>
<g clip-path="url(#c23)"><rect x="325.00" y="120.75" width="3.8" height="14.7" fill="#fff"/><path d="M324.50 122.05L329.30 119.17M324.50 124.75L329.30 121.87M324.50 127.45L329.30 124.57M324.50 130.15L329.30 127.27M324.50 132.85L329.30 129.97M324.50 135.55L329.30 132.67M324.50 138.25L329.30 135.37" stroke="#1a1a1a" stroke-width="0.95"/><rect x="325.25" y="121.00" width="3.30" height="14.20" fill="none" stroke="#555" stroke-width="0.5"/></g>
<g clip-path="url(#c24)"><rect x="331.00" y="120.75" width="3.8" height="14.7" fill="#fff"/><path d="M330.50 122.05L335.30 119.17M330.50 124.75L335.30 121.87M330.50 127.45L335.30 124.57M330.50 130.15L335.30 127.27M330.50 132.85L335.30 129.97M330.50 135.55L335.30 132.67M330.50 138.25L335.30 135.37" stroke="#1a1a1a" stroke-width="0.95"/><rect x="331.25" y="121.00" width="3.30" height="14.20" fill="none" stroke="#555" stroke-width="0.5"/></g>
<g clip-path="url(#c25)"><rect x="337.00" y="120.75" width="3.8" height="14.7" fill="#fff"/><path d="M336.50 122.05L341.30 119.17M336.50 124.75L341.30 121.87M336.50 127.45L341.30 124.57M336.50 130.15L341.30 127.27M336.50 132.85L341.30 129.97M336.50 135.55L341.30 132.67M336.50 138.25L341.30 135.37" stroke="#1a1a1a" stroke-width="0.95"/><rect x="337.25" y="121.00" width="3.30" height="14.20" fill="none" stroke="#555" stroke-width="0.5"/></g>
<g clip-path="url(#c26)"><rect x="342.75" y="120.75" width="3.8" height="14.7" fill="#fff"/><path d="M342.25 122.05L347.05 119.17M342.25 124.75L347.05 121.87M342.25 127.45L347.05 124.57M342.25 130.15L347.05 127.27M342.25 132.85L347.05 129.97M342.25 135.55L347.05 132.67M342.25 138.25L347.05 135.37" stroke="#1a1a1a" stroke-width="0.95"/><rect x="343.00" y="121.00" width="3.30" height="14.20" fill="none" stroke="#555" stroke-width="0.5"/></g>
<g clip-path="url(#c27)"><rect x="348.75" y="120.75" width="3.8" height="14.7" fill="#fff"/><path d="M348.25 122.05L353.05 119.17M348.25 124.75L353.05 121.87M348.25 127.45L353.05 124.57M348.25 130.15L353.05 127.27M348.25 132.85L353.05 129.97M348.25 135.55L353.05 132.67M348.25 138.25L353.05 135.37" stroke="#1a1a1a" stroke-width="0.95"/><rect x="349.00" y="121.00" width="3.30" height="14.20" fill="none" stroke="#555" stroke-width="0.5"/></g>
<g clip-path="url(#c28)"><rect x="354.75" y="120.75" width="3.8" height="14.7" fill="#fff"/><path d="M354.25 122.05L359.05 119.17M354.25 124.75L359.05 121.87M354.25 127.45L359.05 124.57M354.25 130.15L359.05 127.27M354.25 132.85L359.05 129.97M354.25 135.55L359.05 132.67M354.25 138.25L359.05 135.37" stroke="#1a1a1a" stroke-width="0.95"/><rect x="355.00" y="121.00" width="3.30" height="14.20" fill="none" stroke="#555" stroke-width="0.5"/></g>
<g clip-path="url(#c29)"><rect x="360.60" y="120.75" width="3.8" height="14.7" fill="#fff"/><path d="M360.10 122.05L364.90 119.17M360.10 124.75L364.90 121.87M360.10 127.45L364.90 124.57M360.10 130.15L364.90 127.27M360.10 132.85L364.90 129.97M360.10 135.55L364.90 132.67M360.10 138.25L364.90 135.37" stroke="#1a1a1a" stroke-width="0.95"/><rect x="360.85" y="121.00" width="3.30" height="14.20" fill="none" stroke="#555" stroke-width="0.5"/></g>
<g clip-path="url(#c30)"><rect x="368.10" y="120.75" width="3.8" height="14.7" fill="#fff"/><path d="M367.60 122.05L372.40 119.17M367.60 124.75L372.40 121.87M367.60 127.45L372.40 124.57M367.60 130.15L372.40 127.27M367.60 132.85L372.40 129.97M367.60 135.55L372.40 132.67M367.60 138.25L372.40 135.37" stroke="#1a1a1a" stroke-width="0.95"/><rect x="368.35" y="121.00" width="3.30" height="14.20" fill="none" stroke="#555" stroke-width="0.5"/></g>
<g clip-path="url(#c31)"><rect x="374.40" y="120.75" width="3.8" height="14.7" fill="#fff"/><path d="M373.90 122.05L378.70 119.17M373.90 124.75L378.70 121.87M373.90 127.45L378.70 124.57M373.90 130.15L378.70 127.27M373.90 132.85L378.70 129.97M373.90 135.55L378.70 132.67M373.90 138.25L378.70 135.37" stroke="#1a1a1a" stroke-width="0.95"/><rect x="374.65" y="121.00" width="3.30" height="14.20" fill="none" stroke="#555" stroke-width="0.5"/></g>
<g clip-path="url(#c32)"><rect x="385.00" y="120.75" width="3.8" height="14.7" fill="#fff"/><path d="M384.50 122.05L389.30 119.17M384.50 124.75L389.30 121.87M384.50 127.45L389.30 124.57M384.50 130.15L389.30 127.27M384.50 132.85L389.30 129.97M384.50 135.55L389.30 132.67M384.50 138.25L389.30 135.37" stroke="#1a1a1a" stroke-width="0.95"/><rect x="385.25" y="121.00" width="3.30" height="14.20" fill="none" stroke="#555" stroke-width="0.5"/></g>
<g clip-path="url(#c33)"><rect x="391.00" y="120.75" width="3.8" height="14.7" fill="#fff"/><path d="M390.50 122.05L395.30 119.17M390.50 124.75L395.30 121.87M390.50 127.45L395.30 124.57M390.50 130.15L395.30 127.27M390.50 132.85L395.30 129.97M390.50 135.55L395.30 132.67M390.50 138.25L395.30 135.37" stroke="#1a1a1a" stroke-width="0.95"/><rect x="391.25" y="121.00" width="3.30" height="14.20" fill="none" stroke="#555" stroke-width="0.5"/></g>
<g clip-path="url(#c34)"><rect x="397.75" y="120.75" width="3.8" height="14.7" fill="#fff"/><path d="M397.25 122.05L402.05 119.17M397.25 124.75L402.05 121.87M397.25 127.45L402.05 124.57M397.25 130.15L402.05 127.27M397.25 132.85L402.05 129.97M397.25 135.55L402.05 132.67M397.25 138.25L402.05 135.37" stroke="#1a1a1a" stroke-width="0.95"/><rect x="398.00" y="121.00" width="3.30" height="14.20" fill="none" stroke="#555" stroke-width="0.5"/></g>
<g clip-path="url(#c35)"><rect x="408.10" y="120.75" width="3.8" height="14.7" fill="#fff"/><path d="M407.60 122.05L412.40 119.17M407.60 124.75L412.40 121.87M407.60 127.45L412.40 124.57M407.60 130.15L412.40 127.27M407.60 132.85L412.40 129.97M407.60 135.55L412.40 132.67M407.60 138.25L412.40 135.37" stroke="#1a1a1a" stroke-width="0.95"/><rect x="408.35" y="121.00" width="3.30" height="14.20" fill="none" stroke="#555" stroke-width="0.5"/></g>
<g clip-path="url(#c36)"><rect x="417.25" y="120.75" width="3.8" height="14.7" fill="#fff"/><path d="M416.75 122.05L421.55 119.17M416.75 124.75L421.55 121.87M416.75 127.45L421.55 124.57M416.75 130.15L421.55 127.27M416.75 132.85L421.55 129.97M416.75 135.55L421.55 132.67M416.75 138.25L421.55 135.37" stroke="#1a1a1a" stroke-width="0.95"/><rect x="417.50" y="121.00" width="3.30" height="14.20" fill="none" stroke="#555" stroke-width="0.5"/></g>
<g clip-path="url(#c37)"><rect x="423.10" y="120.75" width="3.8" height="14.7" fill="#fff"/><path d="M422.60 122.05L427.40 119.17M422.60 124.75L427.40 121.87M422.60 127.45L427.40 124.57M422.60 130.15L427.40 127.27M422.60 132.85L427.40 129.97M422.60 135.55L427.40 132.67M422.60 138.25L427.40 135.37" stroke="#1a1a1a" stroke-width="0.95"/><rect x="423.35" y="121.00" width="3.30" height="14.20" fill="none" stroke="#555" stroke-width="0.5"/></g>
<g clip-path="url(#c38)"><rect x="431.25" y="120.75" width="3.8" height="14.7" fill="#fff"/><path d="M430.75 122.05L435.55 119.17M430.75 124.75L435.55 121.87M430.75 127.45L435.55 124.57M430.75 130.15L435.55 127.27M430.75 132.85L435.55 129.97M430.75 135.55L435.55 132.67M430.75 138.25L435.55 135.37" stroke="#1a1a1a" stroke-width="0.95"/><rect x="431.50" y="121.00" width="3.30" height="14.20" fill="none" stroke="#555" stroke-width="0.5"/></g>
<g clip-path="url(#c39)"><rect x="440.25" y="120.75" width="3.8" height="14.7" fill="#fff"/><path d="M439.75 122.05L444.55 119.17M439.75 124.75L444.55 121.87M439.75 127.45L444.55 124.57M439.75 130.15L444.55 127.27M439.75 132.85L444.55 129.97M439.75 135.55L444.55 132.67M439.75 138.25L444.55 135.37" stroke="#1a1a1a" stroke-width="0.95"/><rect x="440.50" y="121.00" width="3.30" height="14.20" fill="none" stroke="#555" stroke-width="0.5"/></g>
<g clip-path="url(#c40)"><rect x="446.00" y="120.75" width="3.8" height="14.7" fill="#fff"/><path d="M445.50 122.05L450.30 119.17M445.50 124.75L450.30 121.87M445.50 127.45L450.30 124.57M445.50 130.15L450.30 127.27M445.50 132.85L450.30 129.97M445.50 135.55L450.30 132.67M445.50 138.25L450.30 135.37" stroke="#1a1a1a" stroke-width="0.95"/><rect x="446.25" y="121.00" width="3.30" height="14.20" fill="none" stroke="#555" stroke-width="0.5"/></g>
<g clip-path="url(#c41)"><rect x="451.90" y="120.75" width="3.8" height="14.7" fill="#fff"/><path d="M451.40 122.05L456.20 119.17M451.40 124.75L456.20 121.87M451.40 127.45L456.20 124.57M451.40 130.15L456.20 127.27M451.40 132.85L456.20 129.97M451.40 135.55L456.20 132.67M451.40 138.25L456.20 135.37" stroke="#1a1a1a" stroke-width="0.95"/><rect x="452.15" y="121.00" width="3.30" height="14.20" fill="none" stroke="#555" stroke-width="0.5"/></g>
<g clip-path="url(#c42)"><rect x="460.00" y="120.75" width="3.8" height="14.7" fill="#fff"/><path d="M459.50 122.05L464.30 119.17M459.50 124.75L464.30 121.87M459.50 127.45L464.30 124.57M459.50 130.15L464.30 127.27M459.50 132.85L464.30 129.97M459.50 135.55L464.30 132.67M459.50 138.25L464.30 135.37" stroke="#1a1a1a" stroke-width="0.95"/><rect x="460.25" y="121.00" width="3.30" height="14.20" fill="none" stroke="#555" stroke-width="0.5"/></g>
<g clip-path="url(#c43)"><rect x="473.10" y="120.75" width="3.8" height="14.7" fill="#fff"/><path d="M472.60 122.05L477.40 119.17M472.60 124.75L477.40 121.87M472.60 127.45L477.40 124.57M472.60 130.15L477.40 127.27M472.60 132.85L477.40 129.97M472.60 135.55L477.40 132.67M472.60 138.25L477.40 135.37" stroke="#1a1a1a" stroke-width="0.95"/><rect x="473.35" y="121.00" width="3.30" height="14.20" fill="none" stroke="#555" stroke-width="0.5"/></g>
<g clip-path="url(#c44)"><rect x="481.25" y="120.75" width="3.8" height="14.7" fill="#fff"/><path d="M480.75 122.05L485.55 119.17M480.75 124.75L485.55 121.87M480.75 127.45L485.55 124.57M480.75 130.15L485.55 127.27M480.75 132.85L485.55 129.97M480.75 135.55L485.55 132.67M480.75 138.25L485.55 135.37" stroke="#1a1a1a" stroke-width="0.95"/><rect x="481.50" y="121.00" width="3.30" height="14.20" fill="none" stroke="#555" stroke-width="0.5"/></g>
<g clip-path="url(#c45)"><rect x="488.10" y="120.75" width="3.8" height="14.7" fill="#fff"/><path d="M487.60 122.05L492.40 119.17M487.60 124.75L492.40 121.87M487.60 127.45L492.40 124.57M487.60 130.15L492.40 127.27M487.60 132.85L492.40 129.97M487.60 135.55L492.40 132.67M487.60 138.25L492.40 135.37" stroke="#1a1a1a" stroke-width="0.95"/><rect x="488.35" y="121.00" width="3.30" height="14.20" fill="none" stroke="#555" stroke-width="0.5"/></g>
<g clip-path="url(#c46)"><rect x="495.00" y="120.75" width="3.8" height="14.7" fill="#fff"/><path d="M494.50 122.05L499.30 119.17M494.50 124.75L499.30 121.87M494.50 127.45L499.30 124.57M494.50 130.15L499.30 127.27M494.50 132.85L499.30 129.97M494.50 135.55L499.30 132.67M494.50 138.25L499.30 135.37" stroke="#1a1a1a" stroke-width="0.95"/><rect x="495.25" y="121.00" width="3.30" height="14.20" fill="none" stroke="#555" stroke-width="0.5"/></g>
<g clip-path="url(#c47)"><rect x="501.90" y="120.75" width="3.8" height="14.7" fill="#fff"/><path d="M501.40 122.05L506.20 119.17M501.40 124.75L506.20 121.87M501.40 127.45L506.20 124.57M501.40 130.15L506.20 127.27M501.40 132.85L506.20 129.97M501.40 135.55L506.20 132.67M501.40 138.25L506.20 135.37" stroke="#1a1a1a" stroke-width="0.95"/><rect x="502.15" y="121.00" width="3.30" height="14.20" fill="none" stroke="#555" stroke-width="0.5"/></g>
<text x="9.2" y="131.95" class="t">+</text>
<text x="41" y="131.95" class="t">THP-6</text>
<rect x="120.00" y="139.52" width="3.8" height="14.7" fill="#000"/>
<rect x="131.90" y="139.52" width="3.8" height="14.7" fill="#000"/>
<rect x="139.10" y="139.52" width="3.8" height="14.7" fill="#000"/>
<rect x="147.10" y="139.52" width="3.8" height="14.7" fill="#000"/>
<g clip-path="url(#c48)"><rect x="153.10" y="139.52" width="3.8" height="14.7" fill="#000"/><path d="M152.60 140.87L157.40 137.51M152.60 143.57L157.40 140.21M152.60 146.27L157.40 142.91M152.60 148.97L157.40 145.61M152.60 151.67L157.40 148.31M152.60 154.37L157.40 151.01M152.60 157.07L157.40 153.71M152.60 159.77L157.40 156.41" stroke="#fff" stroke-width="0.6"/></g>
<rect x="163.50" y="139.52" width="3.8" height="14.7" fill="#000"/>
<rect x="173.10" y="139.52" width="3.8" height="14.7" fill="#000"/>
<rect x="179.60" y="139.52" width="3.8" height="14.7" fill="#000"/>
<rect x="186.90" y="139.52" width="3.8" height="14.7" fill="#000"/>
<rect x="207.25" y="139.52" width="3.8" height="14.7" fill="#000"/>
<rect x="214.40" y="139.52" width="3.8" height="14.7" fill="#000"/>
<rect x="223.10" y="139.52" width="3.8" height="14.7" fill="#000"/>
<rect x="234.40" y="139.52" width="3.8" height="14.7" fill="#000"/>
<rect x="267.50" y="139.52" width="3.8" height="14.7" fill="#000"/>
<rect x="274.10" y="139.52" width="3.8" height="14.7" fill="#000"/>
<rect x="280.90" y="139.52" width="3.8" height="14.7" fill="#000"/>
<rect x="289.00" y="139.52" width="3.8" height="14.7" fill="#000"/>
<rect x="295.25" y="139.52" width="3.8" height="14.7" fill="#000"/>
<rect x="301.25" y="139.52" width="3.8" height="14.7" fill="#000"/>
<rect x="312.75" y="139.52" width="3.8" height="14.7" fill="#000"/>
<rect x="318.75" y="139.52" width="3.8" height="14.7" fill="#000"/>
<rect x="325.00" y="139.52" width="3.8" height="14.7" fill="#000"/>
<rect x="331.00" y="139.52" width="3.8" height="14.7" fill="#000"/>
<rect x="337.00" y="139.52" width="3.8" height="14.7" fill="#000"/>
<rect x="342.75" y="139.52" width="3.8" height="14.7" fill="#000"/>
<rect x="348.75" y="139.52" width="3.8" height="14.7" fill="#000"/>
<rect x="354.75" y="139.52" width="3.8" height="14.7" fill="#000"/>
<rect x="360.60" y="139.52" width="3.8" height="14.7" fill="#000"/>
<rect x="368.10" y="139.52" width="3.8" height="14.7" fill="#000"/>
<rect x="374.40" y="139.52" width="3.8" height="14.7" fill="#000"/>
<rect x="385.00" y="139.52" width="3.8" height="14.7" fill="#000"/>
<rect x="391.00" y="139.52" width="3.8" height="14.7" fill="#000"/>
<rect x="397.75" y="139.52" width="3.8" height="14.7" fill="#000"/>
<rect x="408.10" y="139.52" width="3.8" height="14.7" fill="#000"/>
<rect x="417.25" y="139.52" width="3.8" height="14.7" fill="#000"/>
<rect x="423.10" y="139.52" width="3.8" height="14.7" fill="#000"/>
<rect x="431.25" y="139.52" width="3.8" height="14.7" fill="#000"/>
<rect x="440.25" y="139.52" width="3.8" height="14.7" fill="#000"/>
<rect x="446.00" y="139.52" width="3.8" height="14.7" fill="#000"/>
<rect x="451.90" y="139.52" width="3.8" height="14.7" fill="#000"/>
<rect x="460.00" y="139.52" width="3.8" height="14.7" fill="#000"/>
<rect x="473.10" y="139.52" width="3.8" height="14.7" fill="#000"/>
<rect x="481.25" y="139.52" width="3.8" height="14.7" fill="#000"/>
<rect x="488.10" y="139.52" width="3.8" height="14.7" fill="#000"/>
<rect x="495.00" y="139.52" width="3.8" height="14.7" fill="#000"/>
<rect x="501.90" y="139.52" width="3.8" height="14.7" fill="#000"/>
<text x="11.1" y="150.72" class="t">-</text>
<text x="41" y="150.72" class="t">RAJI</text>
<rect x="120.00" y="158.29" width="3.8" height="14.7" fill="#000"/>
<rect x="131.90" y="158.29" width="3.8" height="14.7" fill="#000"/>
<rect x="139.10" y="158.29" width="3.8" height="14.7" fill="#000"/>
<rect x="147.10" y="158.29" width="3.8" height="14.7" fill="#000"/>
<rect x="153.10" y="158.29" width="3.8" height="14.7" fill="#000"/>
<rect x="163.50" y="158.29" width="3.8" height="14.7" fill="#000"/>
<rect x="173.10" y="158.29" width="3.8" height="14.7" fill="#000"/>
<rect x="179.60" y="158.29" width="3.8" height="14.7" fill="#000"/>
<rect x="186.90" y="158.29" width="3.8" height="14.7" fill="#000"/>
<rect x="207.25" y="158.29" width="3.8" height="14.7" fill="#000"/>
<rect x="214.40" y="158.29" width="3.8" height="14.7" fill="#000"/>
<rect x="223.10" y="158.29" width="3.8" height="14.7" fill="#000"/>
<rect x="234.40" y="158.29" width="3.8" height="14.7" fill="#000"/>
<rect x="267.50" y="158.29" width="3.8" height="14.7" fill="#000"/>
<rect x="274.10" y="158.29" width="3.8" height="14.7" fill="#000"/>
<rect x="280.90" y="158.29" width="3.8" height="14.7" fill="#000"/>
<rect x="289.00" y="158.29" width="3.8" height="14.7" fill="#000"/>
<rect x="295.25" y="158.29" width="3.8" height="14.7" fill="#000"/>
<rect x="301.25" y="158.29" width="3.8" height="14.7" fill="#000"/>
<rect x="312.75" y="158.29" width="3.8" height="14.7" fill="#000"/>
<rect x="318.75" y="158.29" width="3.8" height="14.7" fill="#000"/>
<rect x="325.00" y="158.29" width="3.8" height="14.7" fill="#000"/>
<rect x="331.00" y="158.29" width="3.8" height="14.7" fill="#000"/>
<rect x="337.00" y="158.29" width="3.8" height="14.7" fill="#000"/>
<rect x="342.75" y="158.29" width="3.8" height="14.7" fill="#000"/>
<rect x="348.75" y="158.29" width="3.8" height="14.7" fill="#000"/>
<rect x="354.75" y="158.29" width="3.8" height="14.7" fill="#000"/>
<rect x="360.60" y="158.29" width="3.8" height="14.7" fill="#000"/>
<rect x="368.10" y="158.29" width="3.8" height="14.7" fill="#000"/>
<rect x="374.40" y="158.29" width="3.8" height="14.7" fill="#000"/>
<rect x="385.00" y="158.29" width="3.8" height="14.7" fill="#000"/>
<rect x="391.00" y="158.29" width="3.8" height="14.7" fill="#000"/>
<rect x="397.75" y="158.29" width="3.8" height="14.7" fill="#000"/>
<rect x="408.10" y="158.29" width="3.8" height="14.7" fill="#000"/>
<rect x="417.25" y="158.29" width="3.8" height="14.7" fill="#000"/>
<rect x="423.10" y="158.29" width="3.8" height="14.7" fill="#000"/>
<rect x="431.25" y="158.29" width="3.8" height="14.7" fill="#000"/>
<rect x="440.25" y="158.29" width="3.8" height="14.7" fill="#000"/>
<rect x="446.00" y="158.29" width="3.8" height="14.7" fill="#000"/>
<rect x="451.90" y="158.29" width="3.8" height="14.7" fill="#000"/>
<rect x="460.00" y="158.29" width="3.8" height="14.7" fill="#000"/>
<rect x="473.10" y="158.29" width="3.8" height="14.7" fill="#000"/>
<rect x="481.25" y="158.29" width="3.8" height="14.7" fill="#000"/>
<rect x="488.10" y="158.29" width="3.8" height="14.7" fill="#000"/>
<rect x="495.00" y="158.29" width="3.8" height="14.7" fill="#000"/>
<rect x="501.90" y="158.29" width="3.8" height="14.7" fill="#000"/>
<text x="11.1" y="169.49" class="t">-</text>
<text x="41" y="169.49" class="t">HL60</text>
<g clip-path="url(#c49)"><rect x="120.00" y="177.06" width="3.8" height="14.7" fill="#000"/><path d="M119.50 178.41L124.30 175.05M119.50 181.11L124.30 177.75M119.50 183.81L124.30 180.45M119.50 186.51L124.30 183.15M119.50 189.21L124.30 185.85M119.50 191.91L124.30 188.55M119.50 194.61L124.30 191.25M119.50 197.31L124.30 193.95" stroke="#fff" stroke-width="0.6"/></g>
<g clip-path="url(#c50)"><rect x="131.90" y="177.06" width="3.8" height="14.7" fill="#000"/><path d="M131.40 178.41L136.20 175.05M131.40 181.11L136.20 177.75M131.40 183.81L136.20 180.45M131.40 186.51L136.20 183.15M131.40 189.21L136.20 185.85M131.40 191.91L136.20 188.55M131.40 194.61L136.20 191.25M131.40 197.31L136.20 193.95" stroke="#fff" stroke-width="0.6"/></g>
<rect x="139.10" y="177.06" width="3.8" height="14.7" fill="#000"/>
<rect x="147.10" y="177.06" width="3.8" height="14.7" fill="#000"/>
<rect x="153.10" y="177.06" width="3.8" height="14.7" fill="#000"/>
<rect x="163.50" y="177.06" width="3.8" height="14.7" fill="#000"/>
<rect x="173.10" y="177.06" width="3.8" height="14.7" fill="#000"/>
<rect x="179.60" y="177.06" width="3.8" height="14.7" fill="#000"/>
<rect x="186.90" y="177.06" width="3.8" height="14.7" fill="#000"/>
<rect x="207.25" y="177.06" width="3.8" height="14.7" fill="#000"/>
<rect x="214.40" y="177.06" width="3.8" height="14.7" fill="#000"/>
<rect x="223.10" y="177.06" width="3.8" height="14.7" fill="#000"/>
<rect x="234.40" y="177.06" width="3.8" height="14.7" fill="#000"/>
<rect x="267.50" y="177.06" width="3.8" height="14.7" fill="#000"/>
<rect x="274.10" y="177.06" width="3.8" height="14.7" fill="#000"/>
<rect x="280.90" y="177.06" width="3.8" height="14.7" fill="#000"/>
<rect x="289.00" y="177.06" width="3.8" height="14.7" fill="#000"/>
<rect x="295.25" y="177.06" width="3.8" height="14.7" fill="#000"/>
<g clip-path="url(#c51)"><rect x="301.25" y="177.06" width="3.8" height="14.7" fill="#000"/><path d="M300.75 178.41L305.55 175.05M300.75 181.11L305.55 177.75M300.75 183.81L305.55 180.45M300.75 186.51L305.55 183.15M300.75 189.21L305.55 185.85M300.75 191.91L305.55 188.55M300.75 194.61L305.55 191.25M300.75 197.31L305.55 193.95" stroke="#fff" stroke-width="0.6"/></g>
<rect x="312.75" y="177.06" width="3.8" height="14.7" fill="#000"/>
<rect x="318.75" y="177.06" width="3.8" height="14.7" fill="#000"/>
<rect x="325.00" y="177.06" width="3.8" height="14.7" fill="#000"/>
<rect x="331.00" y="177.06" width="3.8" height="14.7" fill="#000"/>
<rect x="337.00" y="177.06" width="3.8" height="14.7" fill="#000"/>
<rect x="342.75" y="177.06" width="3.8" height="14.7" fill="#000"/>
<rect x="348.75" y="177.06" width="3.8" height="14.7" fill="#000"/>
<rect x="354.75" y="177.06" width="3.8" height="14.7" fill="#000"/>
<rect x="360.60" y="177.06" width="3.8" height="14.7" fill="#000"/>
<rect x="368.10" y="177.06" width="3.8" height="14.7" fill="#000"/>
<rect x="374.40" y="177.06" width="3.8" height="14.7" fill="#000"/>
<rect x="385.00" y="177.06" width="3.8" height="14.7" fill="#000"/>
<rect x="391.00" y="177.06" width="3.8" height="14.7" fill="#000"/>
<rect x="397.75" y="177.06" width="3.8" height="14.7" fill="#000"/>
<rect x="408.10" y="177.06" width="3.8" height="14.7" fill="#000"/>
<rect x="417.25" y="177.06" width="3.8" height="14.7" fill="#000"/>
<rect x="423.10" y="177.06" width="3.8" height="14.7" fill="#000"/>
<rect x="431.25" y="177.06" width="3.8" height="14.7" fill="#000"/>
<g clip-path="url(#c52)"><rect x="440.25" y="177.06" width="3.8" height="14.7" fill="#fff"/><path d="M439.75 178.36L444.55 175.48M439.75 181.06L444.55 178.18M439.75 183.76L444.55 180.88M439.75 186.46L444.55 183.58M439.75 189.16L444.55 186.28M439.75 191.86L444.55 188.98M439.75 194.56L444.55 191.68" stroke="#000" stroke-width="1.25"/><rect x="440.50" y="177.31" width="3.30" height="14.20" fill="none" stroke="#222" stroke-width="0.5"/></g>
<rect x="446.00" y="177.06" width="3.8" height="14.7" fill="#000"/>
<rect x="451.90" y="177.06" width="3.8" height="14.7" fill="#000"/>
<rect x="460.00" y="177.06" width="3.8" height="14.7" fill="#000"/>
<rect x="473.10" y="177.06" width="3.8" height="14.7" fill="#000"/>
<rect x="481.25" y="177.06" width="3.8" height="14.7" fill="#000"/>
<g clip-path="url(#c53)"><rect x="488.10" y="177.06" width="3.8" height="14.7" fill="#000"/><path d="M487.60 178.41L492.40 175.05M487.60 181.11L492.40 177.75M487.60 183.81L492.40 180.45M487.60 186.51L492.40 183.15M487.60 189.21L492.40 185.85M487.60 191.91L492.40 188.55M487.60 194.61L492.40 191.25M487.60 197.31L492.40 193.95" stroke="#fff" stroke-width="0.6"/></g>
<rect x="495.00" y="177.06" width="3.8" height="14.7" fill="#000"/>
<g clip-path="url(#c54)"><rect x="501.90" y="177.06" width="3.8" height="14.7" fill="#000"/><path d="M501.40 178.41L506.20 175.05M501.40 181.11L506.20 177.75M501.40 183.81L506.20 180.45M501.40 186.51L506.20 183.15M501.40 189.21L506.20 185.85M501.40 191.91L506.20 188.55M501.40 194.61L506.20 191.25M501.40 197.31L506.20 193.95" stroke="#fff" stroke-width="0.6"/></g>
<text x="11.1" y="188.26" class="t">-</text>
<text x="41" y="188.26" class="t">HS-SULTAN</text>
<text x="0.8" y="8.65" class="t">p57</text>
<text x="0.8" y="16.3" class="t">expression</text>
<text x="100.6" y="8.65" class="t">CpG</text>
<text x="119.9" y="9.2" class="t">1</text>
<text x="205.6" y="6.5" class="t">CpG island (5' promotor region of p57<tspan font-size="4.1" dx="0.5" dy="-2.6">KIP2</tspan><tspan dx="3.2" dy="2.6"> gene)</tspan></text>
<text x="496.8" y="9.2" class="t">46</text>
<text x="230.8" y="213.8" class="t">percentage of methylation</text>
<rect x="167.10" y="224.00" width="4" height="14.5" fill="#000"/>
<text x="172.10" y="233.6" class="t" style="font-size:6.9px">:100%</text>
<g clip-path="url(#c55)"><rect x="206.00" y="224.00" width="4" height="14.5" fill="#000"/><path d="M205.50 225.35L210.50 221.85M205.50 228.05L210.50 224.55M205.50 230.75L210.50 227.25M205.50 233.45L210.50 229.95M205.50 236.15L210.50 232.65M205.50 238.85L210.50 235.35M205.50 241.55L210.50 238.05M205.50 244.25L210.50 240.75" stroke="#fff" stroke-width="0.6"/></g>
<text x="211.00" y="233.6" class="t" style="font-size:6.9px">:76-99%</text>
<g clip-path="url(#c56)"><rect x="255.20" y="224.00" width="4" height="14.5" fill="#fff"/><path d="M254.70 225.30L259.70 222.30M254.70 228.00L259.70 225.00M254.70 230.70L259.70 227.70M254.70 233.40L259.70 230.40M254.70 236.10L259.70 233.10M254.70 238.80L259.70 235.80M254.70 241.50L259.70 238.50" stroke="#000" stroke-width="1.25"/><rect x="255.45" y="224.25" width="3.50" height="14.00" fill="none" stroke="#222" stroke-width="0.5"/></g>
<text x="260.20" y="233.6" class="t" style="font-size:6.9px">:51-75%</text>
<g clip-path="url(#c57)"><rect x="302.60" y="224.00" width="4" height="14.5" fill="#fff"/><path d="M302.10 225.30L307.10 222.30M302.10 228.00L307.10 225.00M302.10 230.70L307.10 227.70M302.10 233.40L307.10 230.40M302.10 236.10L307.10 233.10M302.10 238.80L307.10 235.80M302.10 241.50L307.10 238.50" stroke="#1a1a1a" stroke-width="0.95"/><rect x="302.85" y="224.25" width="3.50" height="14.00" fill="none" stroke="#555" stroke-width="0.5"/></g>
<text x="307.60" y="233.6" class="t" style="font-size:6.9px">:26-50%</text>
<rect x="351.10" y="224.50" width="3" height="13.5" fill="#fff" stroke="#aaa" stroke-width="0.9"/><path clip-path="url(#c58)" d="M350.60 230.40L354.60 226.30M350.60 236.60L354.60 232.50" stroke="#222" stroke-width="0.9"/>
<text x="355.60" y="233.6" class="t" style="font-size:6.9px">:1-25%</text>
<rect x="391.90" y="224.10" width="3.50" height="14.10" fill="#fff" stroke="#959595" stroke-width="1"/>
<text x="396.90" y="233.6" class="t" style="font-size:6.9px">:0%</text>
</svg>
</body></html>
